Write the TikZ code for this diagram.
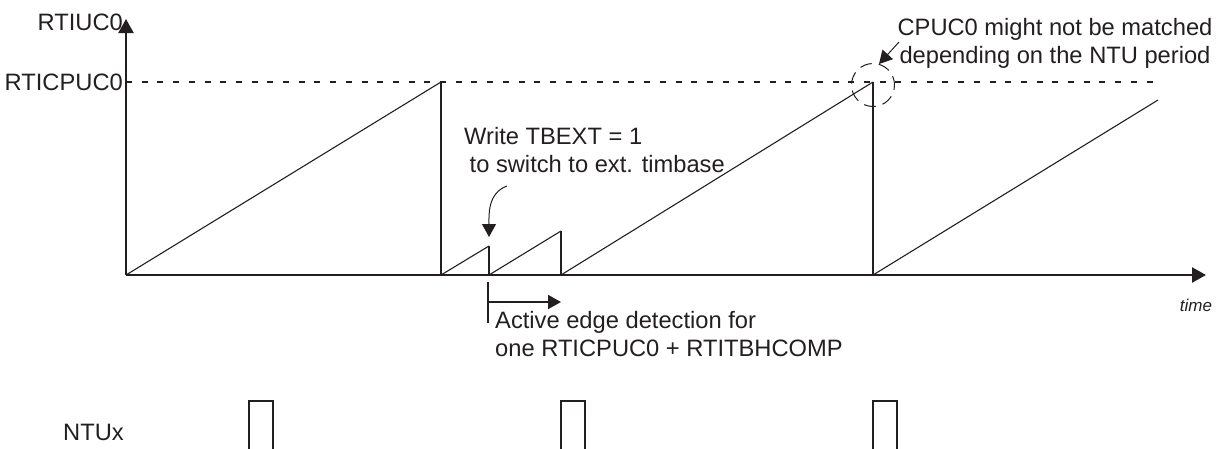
\documentclass[tikz,border=0pt]{standalone}
\usepackage{fontspec}
\setmainfont{Liberation Sans}
\usetikzlibrary{arrows.meta}
\definecolor{ink}{RGB}{35,31,32}
\newcommand{\mylbl}{\fontsize{23.7}{28}\selectfont}
\newcommand{\mysmall}{\fontsize{17}{20}\selectfont\itshape}
\begin{document}
\begin{tikzpicture}[x=1pt,y=-1pt,
  ink/.style={draw=ink},
  axisline/.style={ink,line width=2.4pt,-{Triangle[length=14pt,width=15pt]}},
  ramp/.style={ink,line width=1.1pt},
  dropline/.style={ink,line width=2pt},
  thindrop/.style={ink,line width=1.2pt},
  levelline/.style={ink,line width=1.8pt,dash pattern=on 6pt off 9.7pt},
  pulse/.style={ink,line width=2.4pt},
  pointer/.style={ink,line width=1pt,-{Triangle[length=13pt,width=14pt]}},
  txt/.style={text=ink,font=\mylbl,inner sep=0pt},
]
\useasboundingbox (0,0) rectangle (1220,448);
% axes
\coordinate (O) at (126,275);
\coordinate (Ytop) at (126,19);
\coordinate (Xend) at (1206,275);
\draw[axisline] (O) -- (Ytop);
\draw[axisline] (O) -- (Xend);
% level line
\coordinate (L0) at (126,82);
\coordinate (L1) at (1158,82);
\draw[levelline] (L0) -- (L1);
% labels
\node[txt,anchor=east] (lUC) at (123,22) {RTIUC0};
\node[txt,anchor=east] (lCP) at (123,82) {RTICPUC0};
\node[text=ink,font=\mysmall,inner sep=0pt] (ltime) at (1196,305) {time};
% sawtooth
\coordinate (p1) at (441,82);
\coordinate (b1) at (441,275);
\coordinate (p2) at (489,246);
\coordinate (b2) at (489,275);
\coordinate (p3) at (561,231);
\coordinate (b3) at (561,275);
\coordinate (p4) at (873,82);
\coordinate (b4) at (873,275);
\coordinate (p5) at (1158,100);
\draw[ramp] (O) -- (p1);
\draw[dropline] (p1) -- (b1);
\draw[ramp] (b1) -- (p2);
\draw[dropline] (p2) -- (b2);
\draw[ramp] (b2) -- (p3);
\draw[thindrop] (p3) -- (b3);
\draw[ramp] (b3) -- (p4);
\draw[dropline] (p4) -- (b4);
\draw[ramp] (b4) -- (p5);
% annotation: write TBEXT
\node[txt,anchor=base west,align=left] (wr) at (464,172) {Write TBEXT = 1\\\hspace*{5.5pt}to switch to ext. timbase};
\coordinate (c0) at (507,186);
\coordinate (c1) at (489,237);
\draw[pointer] (c0) to[out=200,in=90] (c1);
% active edge detection
\coordinate (e0) at (488,282);
\coordinate (e1) at (488,323);
\coordinate (e2) at (488,302);
\coordinate (e3) at (561,302);
\draw[ink,line width=1.8pt] (e0) -- (e1);
\draw[ink,line width=1.8pt,-{Triangle[length=13pt,width=14pt]}] (e2) -- (e3);
\node[txt,anchor=base west,align=left] (act) at (495,356) {Active edge detection for\\one RTICPUC0 + RTITBHCOMP};
% CPUC0 annotation
\node[ink,circle,minimum size=43pt,inner sep=0pt,line width=1pt,dash pattern=on 12pt off 7pt,dash phase=3pt] (circ) at (873,85) {};
\coordinate (a0) at (899,42);
\coordinate (a1) at (879,64);
\draw[pointer] (a0) -- (a1);
\node[txt,anchor=base,align=center] (cp) at (1055,63) {CPUC0 might not be matched\\depending on the NTU period};
% NTU pulses
\node[txt,anchor=west] (ntu) at (63,432) {NTUx};
\foreach \xa/\nm in {249/q1,561/q2,873/q3}{
  \coordinate (\nm a) at (\xa,449);
  \coordinate (\nm b) at (\xa,401);
  \coordinate (\nm c) at (\xa+24,401);
  \coordinate (\nm d) at (\xa+24,449);
  \draw[pulse] (\nm a) -- (\nm b) -- (\nm c) -- (\nm d);
}
\end{tikzpicture}
\end{document}
